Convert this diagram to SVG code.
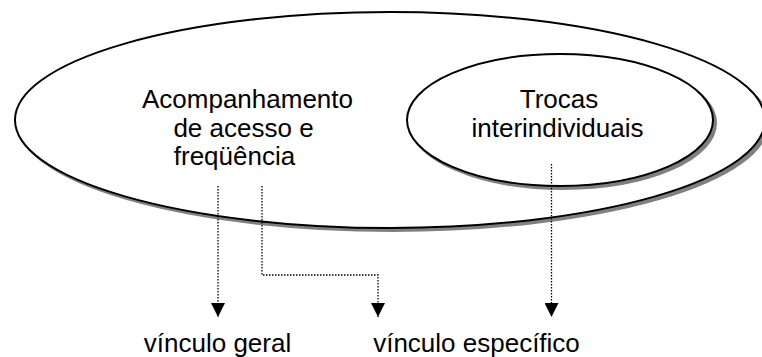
<svg xmlns="http://www.w3.org/2000/svg" width="762" height="357" viewBox="0 0 762 357">
<style>
.shadow{fill:#808080;stroke:#808080;stroke-width:2}
.shape{fill:#fff;stroke:#000;stroke-width:2}
.lbl{font-family:"Liberation Sans",Arial,sans-serif;font-size:26px;fill:#000;text-anchor:middle}
.dot{fill:none;stroke:#000;stroke-width:1.3;stroke-dasharray:1.5 1.5}
</style>
<defs>
<marker id="ah" markerWidth="14" markerHeight="14" refX="14" refY="7" orient="auto" markerUnits="userSpaceOnUse">
<path d="M0,0 L14,7 L0,14 Z" fill="#000"/>
</marker>
</defs>
<rect width="762" height="357" fill="#fff"/>
<g id="outer">
<ellipse class="shadow" cx="393" cy="123" rx="375" ry="108"/>
<ellipse class="shape" cx="390" cy="120" rx="375" ry="108"/>
<text class="lbl" x="247.5" y="108">Acompanhamento</text>
<text class="lbl" x="243.5" y="137">de acesso e</text>
<text class="lbl" x="234.5" y="165">freqüência</text>
</g>
<g id="inner">
<ellipse class="shadow" cx="563" cy="123" rx="153" ry="66"/>
<ellipse class="shape" cx="560" cy="120" rx="153" ry="66"/>
<text class="lbl" x="559" y="108">Trocas</text>
<text class="lbl" x="557.5" y="137">interindividuais</text>
</g>
<g id="connectors">
<path class="dot" d="M218,186 V317" marker-end="url(#ah)"/>
<path class="dot" d="M262,186 V275 H378 V317" marker-end="url(#ah)"/>
<path class="dot" d="M551.5,164 V317" marker-end="url(#ah)"/>
</g>
<g id="geral">
<text class="lbl" x="217.5" y="352">vínculo geral</text>
</g>
<g id="especifico">
<text class="lbl" x="476.5" y="352">vínculo específico</text>
</g>
</svg>
